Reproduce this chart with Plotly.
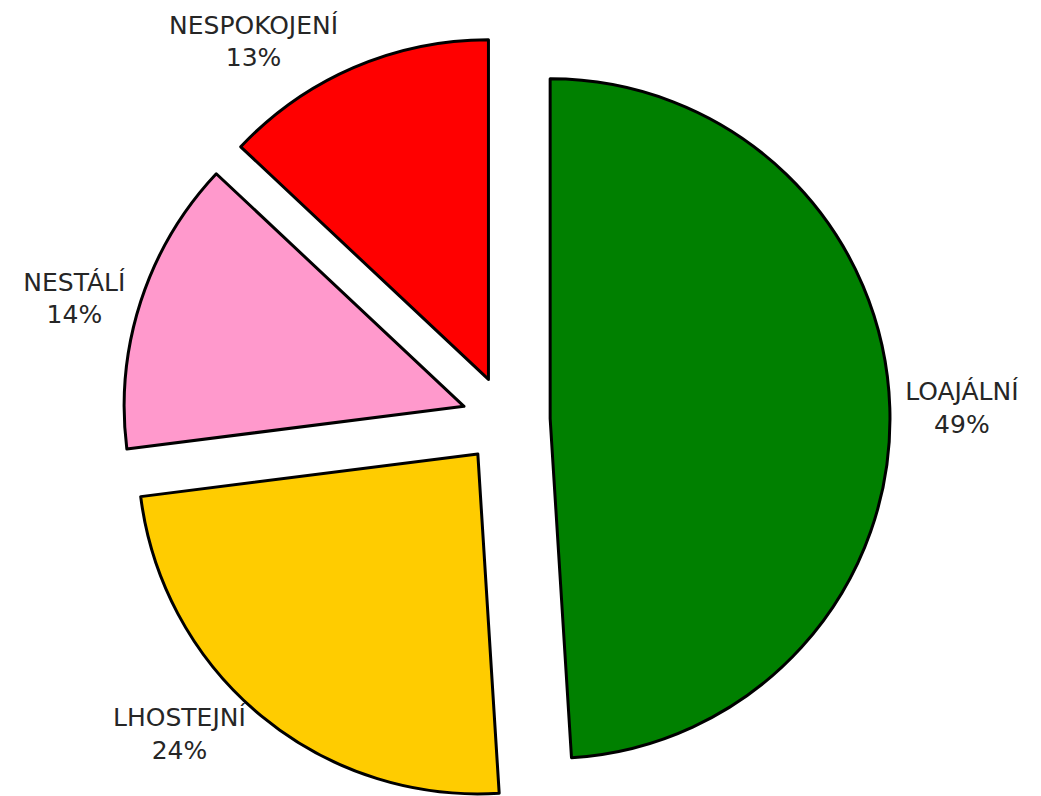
import plotly.graph_objects as go

labels = ["LOAJÁLNÍ", "LHOSTEJNÍ", "NESTÁLÍ", "NESPOKOJENÍ"]
values = [49, 24, 14, 13]
colors = ["#008000", "#FFCC00", "#FF99CC", "#FF0000"]

W, H = 1041, 796
box = 768  # pie box size in px (radius * 2 * (1 + pull))
cx = 498

fig = go.Figure()
fig.add_trace(go.Pie(
    labels=labels,
    values=values,
    sort=False,
    direction="clockwise",
    rotation=0,
    pull=0.13,
    automargin=False,
    marker=dict(colors=colors, line=dict(color="black", width=3)),
    textinfo="label+percent",
    textposition="outside",
    textfont=dict(family="DejaVu Sans", size=25, color="#262626"),
    showlegend=False,
    domain=dict(x=[(cx - box / 2) / W, (cx + box / 2) / W], y=[0, box / H]),
))
fig.update_layout(
    width=W, height=H,
    margin=dict(l=0, r=0, t=0, b=0, autoexpand=False),
    paper_bgcolor="white",
    plot_bgcolor="white",
)
fig.write_html("out.html")
